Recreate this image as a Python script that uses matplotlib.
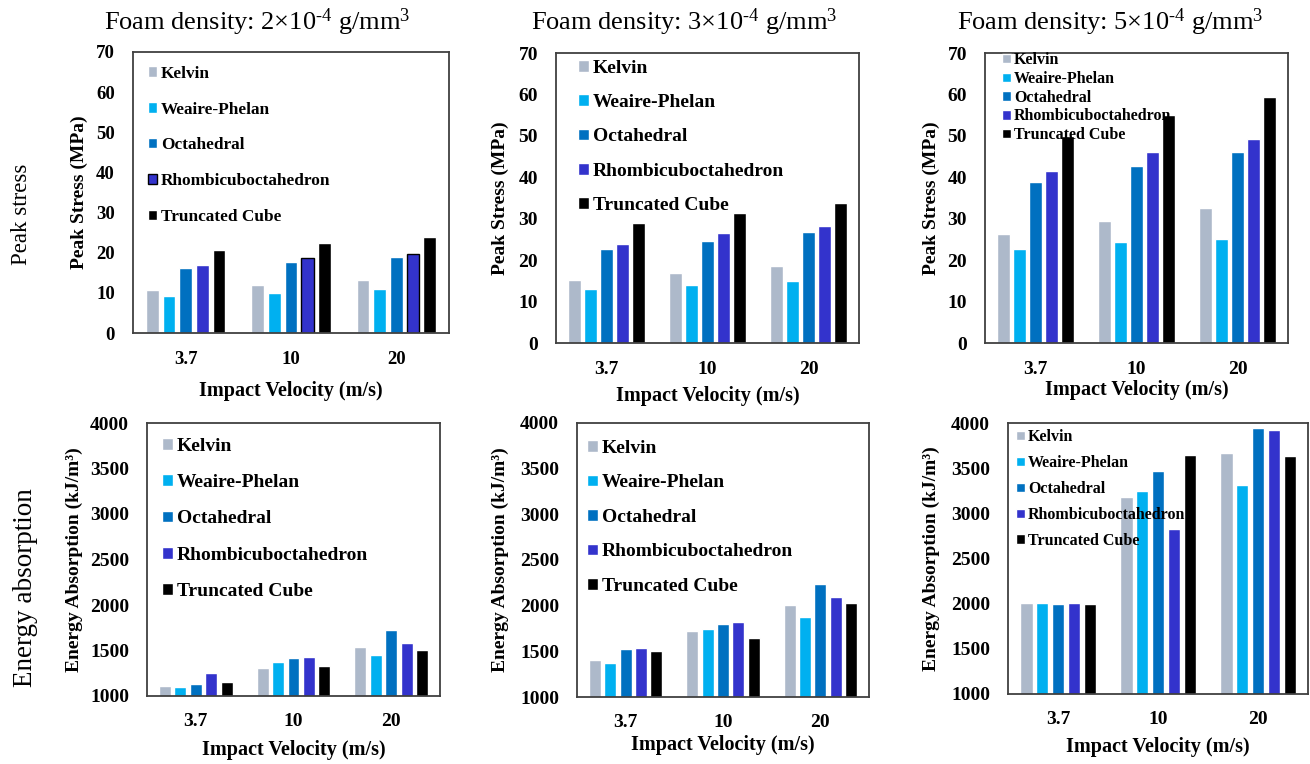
import matplotlib
matplotlib.use("Agg")
import matplotlib.pyplot as plt
import numpy as np

plt.rcParams['font.family'] = ['Liberation Serif', 'DejaVu Serif']
plt.rcParams['mathtext.fontset'] = 'custom'
plt.rcParams['mathtext.rm'] = 'Liberation Serif'
plt.rcParams['mathtext.it'] = 'Liberation Serif:italic'
plt.rcParams['mathtext.bf'] = 'Liberation Serif:bold'

# ---------------- data ----------------
categories = ["3.7", "10", "20"]
series = ["Kelvin", "Weaire-Phelan", "Octahedral", "Rhombicuboctahedron", "Truncated Cube"]
colors = ["#ADB9CA", "#00B0F0", "#0070C0", "#3333CC", "#000000"]

titles = [r"Foam density: 2×10$^{\text{-4}}$ g/mm$^{3}$",
          r"Foam density: 3×10$^{\text{-4}}$ g/mm$^{3}$",
          r"Foam density: 5×10$^{\text{-4}}$ g/mm$^{3}$"]

# Peak stress (MPa): one list per series, values per category
stress_d2_kelvin = [10.7, 12.0, 13.3]
stress_d2_weaire = [9.3, 10.0, 11.0]
stress_d2_octa = [16.2, 17.6, 18.9]
stress_d2_rhomb = [17.0, 18.7, 19.8]
stress_d2_trunc = [20.7, 22.4, 24.0]

stress_d3_kelvin = [15.1, 16.9, 18.7]
stress_d3_weaire = [13.1, 14.1, 15.0]
stress_d3_octa = [22.7, 24.7, 26.7]
stress_d3_rhomb = [24.0, 26.5, 28.3]
stress_d3_trunc = [28.9, 31.4, 33.8]

stress_d5_kelvin = [26.3, 29.5, 32.5]
stress_d5_weaire = [22.8, 24.4, 25.2]
stress_d5_octa = [38.8, 42.7, 46.1]
stress_d5_rhomb = [41.6, 46.1, 49.2]
stress_d5_trunc = [50.0, 55.1, 59.5]

# Energy absorption (kJ/m3)
energy_d2_kelvin = [1106, 1312, 1540]
energy_d2_weaire = [1095, 1378, 1452]
energy_d2_octa = [1128, 1415, 1723]
energy_d2_rhomb = [1253, 1430, 1587]
energy_d2_trunc = [1151, 1330, 1503]

energy_d3_kelvin = [1410, 1728, 2006]
energy_d3_weaire = [1377, 1750, 1871]
energy_d3_octa = [1527, 1794, 2237]
energy_d3_rhomb = [1538, 1820, 2098]
energy_d3_trunc = [1501, 1651, 2028]

energy_d5_kelvin = [2005, 3184, 3664]
energy_d5_weaire = [2005, 3247, 3314]
energy_d5_octa = [2000, 3469, 3948]
energy_d5_rhomb = [2007, 2827, 3923]
energy_d5_trunc = [2000, 3649, 3635]

stress_ticks = [0, 10, 20, 30, 40, 50, 60, 70]
energy_ticks = [1000, 1500, 2000, 2500, 3000, 3500, 4000]

panels_data = [
    [stress_d2_kelvin, stress_d2_weaire, stress_d2_octa, stress_d2_rhomb, stress_d2_trunc],
    [stress_d3_kelvin, stress_d3_weaire, stress_d3_octa, stress_d3_rhomb, stress_d3_trunc],
    [stress_d5_kelvin, stress_d5_weaire, stress_d5_octa, stress_d5_rhomb, stress_d5_trunc],
    [energy_d2_kelvin, energy_d2_weaire, energy_d2_octa, energy_d2_rhomb, energy_d2_trunc],
    [energy_d3_kelvin, energy_d3_weaire, energy_d3_octa, energy_d3_rhomb, energy_d3_trunc],
    [energy_d5_kelvin, energy_d5_weaire, energy_d5_octa, energy_d5_rhomb, energy_d5_trunc],
]

# ---------------- layout (pixels) ----------------
W, H = 1310, 764
fig = plt.figure(figsize=(W / 100, H / 100), dpi=100)


def fx(x):
    return x / W


def fy(y):
    return 1 - y / H


# (left, top, right, bottom)
boxes = [(133, 52, 449, 333), (556, 53, 859, 343), (985, 53, 1288, 343),
         (147, 423, 440, 696), (577, 423, 869, 697), (1008, 423, 1308, 694)]
# legend: (x px, first-row center y px, fontsize, labelspacing)
legends = [(148, 73, 12.4, 1.15), (578, 68, 14, 0.89), (1002, 59, 11.5, 0.17),
           (162, 446, 14, 0.99), (587, 448, 14, 0.9), (1016, 436, 11.5, 0.62)]
ylabel_right = [88, 509, 940, 83, 509, 940]
xlabel_top = [381, 386, 380, 740, 735, 737]
tick_fs = [13.5, 14, 14, 14, 14, 14]
lab_fs = 14
xlab_fs = 14.5

pitch = 0.158
width = 0.122
x = np.arange(len(categories))

for i, (data, box) in enumerate(zip(panels_data, boxes)):
    l, t, r, b = box
    ax = fig.add_axes([fx(l), fy(b), fx(r) - fx(l), (b - t) / H])
    handles = []
    for s, (vals, name, col) in enumerate(zip(data, series, colors)):
        ec = ['white'] * len(vals)
        if i == 0 and s == 3:
            ec = ['white', 'black', 'black']
        bars = ax.bar(x + (s - 2) * pitch, vals, width=width, color=col,
                      edgecolor=ec, linewidth=1.0, label=name, zorder=2)
        handles.append(bars)
    ax.set_xlim(-0.5, 2.5)
    if i < 3:
        ax.set_ylim(0, 70)
        ax.set_yticks(stress_ticks)
        ax.set_ylabel("Peak Stress (MPa)", fontsize=lab_fs, fontweight='bold')
    else:
        ax.set_ylim(1000, 4000)
        ax.set_yticks(energy_ticks)
        ax.set_ylabel("Energy Absorption (kJ/m³)", fontsize=lab_fs, fontweight='bold')
    ax.set_xticks(x)
    ax.set_xticklabels(categories)
    ax.tick_params(axis='both', length=0, labelsize=tick_fs[i])
    ax.tick_params(axis='y', pad=13)
    ax.tick_params(axis='x', pad=13 if i < 3 else 12)
    for lab in ax.get_xticklabels() + ax.get_yticklabels():
        lab.set_fontweight('bold')
    ax.set_xlabel("Impact Velocity (m/s)", fontsize=xlab_fs, fontweight='bold')
    ax.yaxis.set_label_coords((ylabel_right[i] - l) / (r - l), 0.5)
    ax.xaxis.set_label_coords(0.5, (b - xlabel_top[i]) / (b - t))
    for sp in ax.spines.values():
        sp.set_color('#404040')
        sp.set_linewidth(1.3)

    lx, ly, lfs, lsp = legends[i]
    leg_handles = [h.patches[0] for h in handles]
    if i == 0:
        leg_handles[3] = handles[3].patches[1]
    ax.legend(handles=leg_handles, labels=series, loc='upper left',
              bbox_to_anchor=(fx(lx), fy(ly - lfs * 1.389 * 0.42)),
              bbox_transform=fig.transFigure, frameon=False,
              prop={'weight': 'bold', 'size': lfs},
              handlelength=0.55, handleheight=0.55, handletextpad=0.2,
              labelspacing=lsp, borderpad=0, borderaxespad=0)

# column titles
for cx, ttl in zip([257, 684, 1110], titles):
    fig.text(fx(cx), fy(22), ttl, ha='center', va='center', fontsize=19)

# row labels
fig.text(fx(22), fy(214), "Peak stress", rotation=90, ha='center', va='center', fontsize=16.5)
fig.text(fx(26), fy(588), "Energy absorption", rotation=90, ha='center', va='center', fontsize=19.5)

fig.savefig("out.png", dpi=100)
